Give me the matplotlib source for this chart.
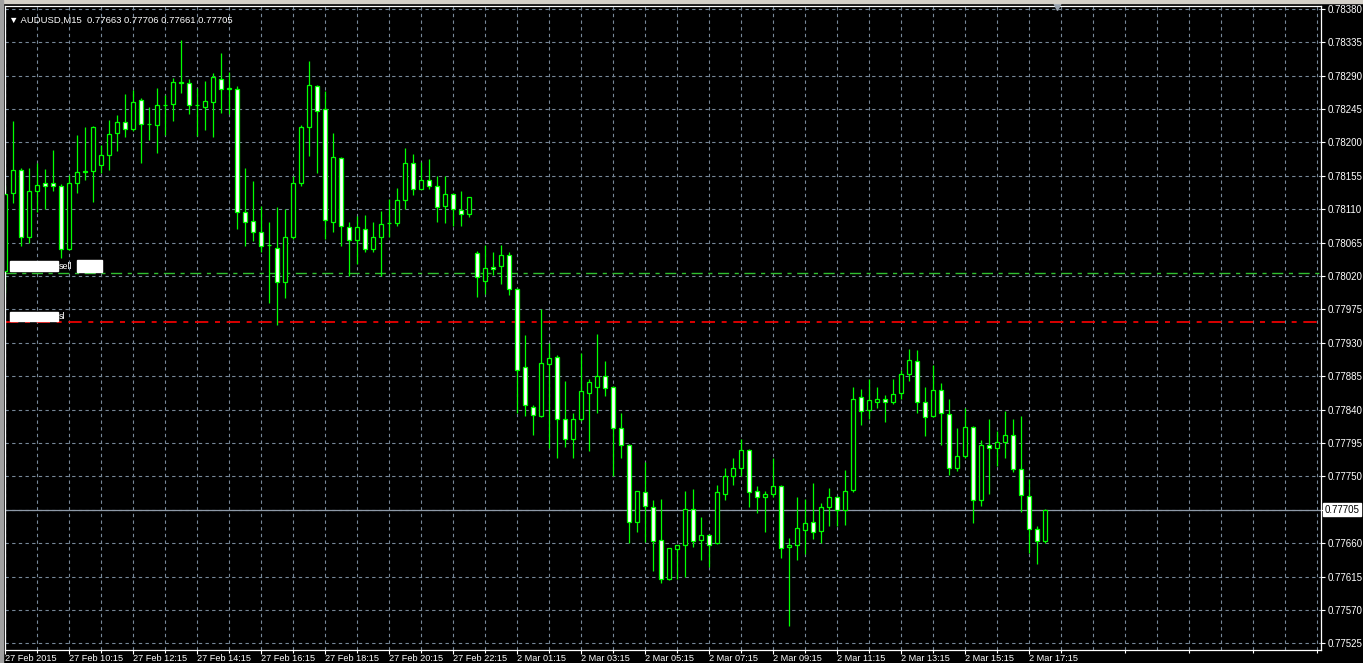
import numpy as np
import matplotlib
matplotlib.use("Agg")
import matplotlib.pyplot as plt
from matplotlib.patches import Rectangle

plt.rcParams['font.family'] = ['Liberation Sans', 'DejaVu Sans']

symbol = "AUDUSD,M15"
last_ohlc = ["0.77663", "0.77706", "0.77661", "0.77705"]

opens = [0.78027, 0.78132, 0.78163, 0.78072, 0.78134, 0.78146, 0.78146, 0.78142, 0.78056, 0.78145,
         0.78161, 0.78161, 0.78169, 0.78183, 0.78213, 0.78227, 0.78218, 0.78257, 0.78225, 0.78224,
         0.78251, 0.78252, 0.78280, 0.78280, 0.78250, 0.78248, 0.78255, 0.78285, 0.78272, 0.78272,
         0.78106, 0.78094, 0.78080, 0.78062, 0.78058, 0.78012, 0.78072, 0.78145, 0.78221, 0.78276,
         0.78245, 0.78093, 0.78179, 0.78086, 0.78068, 0.78084, 0.78057, 0.78072, 0.78091, 0.78091,
         0.78123, 0.78172, 0.78138, 0.78150, 0.78141, 0.78114, 0.78130, 0.78109, 0.78103, 0.78051,
         0.78014, 0.78032, 0.78033, 0.78049, 0.78002, 0.77897, 0.77844, 0.77832, 0.77901, 0.77911,
         0.77827, 0.77800, 0.77827, 0.77863, 0.77870, 0.77885, 0.77870, 0.77815, 0.77792, 0.77688,
         0.77729, 0.77709, 0.77664, 0.77612, 0.77652, 0.77657, 0.77706, 0.77664, 0.77671, 0.77660,
         0.77727, 0.77750, 0.77761, 0.77785, 0.77730, 0.77722, 0.77727, 0.77737, 0.77655, 0.77657,
         0.77678, 0.77688, 0.77676, 0.77709, 0.77722, 0.77705, 0.77732, 0.77857, 0.77839, 0.77851,
         0.77854, 0.77850, 0.77862, 0.77888, 0.77905, 0.77850, 0.77831, 0.77866, 0.77834, 0.77762,
         0.77777, 0.77816, 0.77718, 0.77792, 0.77788, 0.77796, 0.77806, 0.77760, 0.77724, 0.77679,
         0.77663]
highs = [0.78143, 0.78229, 0.78165, 0.78166, 0.78172, 0.78164, 0.78190, 0.78144, 0.78156, 0.78210,
         0.78221, 0.78222, 0.78197, 0.78230, 0.78237, 0.78265, 0.78271, 0.78260, 0.78248, 0.78273,
         0.78264, 0.78287, 0.78338, 0.78286, 0.78274, 0.78283, 0.78293, 0.78321, 0.78295, 0.78276,
         0.78165, 0.78148, 0.78114, 0.78093, 0.78113, 0.78110, 0.78155, 0.78224, 0.78310, 0.78278,
         0.78269, 0.78213, 0.78181, 0.78093, 0.78101, 0.78102, 0.78093, 0.78108, 0.78124, 0.78139,
         0.78193, 0.78185, 0.78174, 0.78178, 0.78155, 0.78155, 0.78132, 0.78135, 0.78127, 0.78054,
         0.78062, 0.78052, 0.78062, 0.78053, 0.78004, 0.77941, 0.77846, 0.77975, 0.77930, 0.77913,
         0.77879, 0.77836, 0.77916, 0.77881, 0.77942, 0.77906, 0.77872, 0.77836, 0.77794, 0.77731,
         0.77769, 0.77718, 0.77719, 0.77654, 0.77658, 0.77731, 0.77733, 0.77695, 0.77672, 0.77739,
         0.77761, 0.77775, 0.77801, 0.77787, 0.77737, 0.77731, 0.77775, 0.77739, 0.77667, 0.77722,
         0.77720, 0.77741, 0.77714, 0.77734, 0.77724, 0.77759, 0.77871, 0.77868, 0.77881, 0.77871,
         0.77860, 0.77882, 0.77893, 0.77922, 0.77920, 0.77871, 0.77900, 0.77876, 0.77854, 0.77815,
         0.77842, 0.77818, 0.77799, 0.77827, 0.77811, 0.77838, 0.77827, 0.77831, 0.77746, 0.77683,
         0.77706]
lows = [0.77997, 0.78119, 0.78060, 0.78064, 0.78106, 0.78110, 0.78134, 0.78045, 0.78055, 0.78132,
        0.78149, 0.78120, 0.78159, 0.78163, 0.78189, 0.78208, 0.78215, 0.78172, 0.78203, 0.78186,
        0.78210, 0.78229, 0.78267, 0.78239, 0.78209, 0.78217, 0.78208, 0.78240, 0.78239, 0.78084,
        0.78060, 0.78067, 0.78053, 0.77984, 0.77954, 0.77991, 0.78070, 0.78142, 0.78182, 0.78159,
        0.78070, 0.78079, 0.78061, 0.78020, 0.78036, 0.78053, 0.78052, 0.78020, 0.78072, 0.78088,
        0.78110, 0.78129, 0.78137, 0.78137, 0.78093, 0.78092, 0.78088, 0.78088, 0.78099, 0.77992,
        0.77996, 0.78022, 0.78010, 0.77994, 0.77836, 0.77831, 0.77806, 0.77830, 0.77789, 0.77775,
        0.77790, 0.77775, 0.77825, 0.77784, 0.77835, 0.77858, 0.77750, 0.77775, 0.77660, 0.77675,
        0.77662, 0.77623, 0.77606, 0.77611, 0.77612, 0.77615, 0.77655, 0.77638, 0.77628, 0.77659,
        0.77718, 0.77738, 0.77750, 0.77709, 0.77701, 0.77675, 0.77722, 0.77640, 0.77548, 0.77637,
        0.77645, 0.77666, 0.77661, 0.77683, 0.77683, 0.77685, 0.77729, 0.77819, 0.77828, 0.77842,
        0.77824, 0.77847, 0.77855, 0.77878, 0.77835, 0.77804, 0.77830, 0.77793, 0.77752, 0.77757,
        0.77775, 0.77687, 0.77710, 0.77727, 0.77764, 0.77775, 0.77756, 0.77702, 0.77647, 0.77632,
        0.77661]
closes = [0.78131, 0.78163, 0.78072, 0.78134, 0.78143, 0.78142, 0.78142, 0.78056, 0.78145, 0.78160,
          0.78160, 0.78221, 0.78183, 0.78212, 0.78227, 0.78218, 0.78255, 0.78225, 0.78225, 0.78251,
          0.78251, 0.78281, 0.78281, 0.78250, 0.78250, 0.78256, 0.78288, 0.78272, 0.78274, 0.78106,
          0.78093, 0.78080, 0.78060, 0.78062, 0.78012, 0.78072, 0.78145, 0.78221, 0.78277, 0.78243,
          0.78095, 0.78181, 0.78087, 0.78068, 0.78086, 0.78056, 0.78072, 0.78090, 0.78091, 0.78123,
          0.78172, 0.78138, 0.78150, 0.78142, 0.78113, 0.78130, 0.78110, 0.78103, 0.78126, 0.78019,
          0.78031, 0.78029, 0.78049, 0.78002, 0.77893, 0.77846, 0.77833, 0.77903, 0.77909, 0.77827,
          0.77800, 0.77827, 0.77865, 0.77877, 0.77885, 0.77869, 0.77815, 0.77792, 0.77688, 0.77730,
          0.77710, 0.77663, 0.77612, 0.77653, 0.77657, 0.77706, 0.77663, 0.77671, 0.77657, 0.77729,
          0.77750, 0.77761, 0.77785, 0.77729, 0.77722, 0.77726, 0.77737, 0.77653, 0.77658, 0.77680,
          0.77687, 0.77675, 0.77709, 0.77722, 0.77705, 0.77730, 0.77855, 0.77838, 0.77853, 0.77854,
          0.77850, 0.77861, 0.77888, 0.77907, 0.77850, 0.77830, 0.77866, 0.77835, 0.77762, 0.77777,
          0.77816, 0.77718, 0.77793, 0.77788, 0.77796, 0.77806, 0.77760, 0.77725, 0.77679, 0.77663,
          0.77705]

time_labels = ["27 Feb 2015", "27 Feb 10:15", "27 Feb 12:15", "27 Feb 14:15", "27 Feb 16:15",
               "27 Feb 18:15", "27 Feb 20:15", "27 Feb 22:15", "2 Mar 01:15", "2 Mar 03:15",
               "2 Mar 05:15", "2 Mar 07:15", "2 Mar 09:15", "2 Mar 11:15", "2 Mar 13:15",
               "2 Mar 15:15", "2 Mar 17:15"]
price_ticks = [0.77525, 0.77570, 0.77615, 0.77660, 0.77705, 0.77750, 0.77795, 0.77840, 0.77885,
               0.77930, 0.77975, 0.78020, 0.78065, 0.78110, 0.78155, 0.78200, 0.78245, 0.78290,
               0.78335, 0.78380]
bid = 0.77705
sell_level = 0.78024
sl_level = 0.77958

W, H = 1363, 663
fig = plt.figure(figsize=(W / 100, H / 100), dpi=100, facecolor='black')
ax = fig.add_axes([5 / W, 1 - 650 / H, 1316 / W, 644 / H])
ax.set_facecolor('black')

o = np.array(opens)
h = np.array(highs)
l = np.array(lows)
c = np.array(closes)
x = np.arange(len(o))

ax.set_xlim(-0.04, 164.46)
ax.set_ylim(0.775162, 0.783839)

# grid + scales; the bid box takes the place of its own tick label
ax.set_yticks(price_ticks)
ax.set_yticklabels(["" if abs(p - bid) < 1e-7 else "%.5f" % p for p in price_ticks])
ax.set_xticks(np.arange(0, 8 * len(time_labels), 8))
ax.set_xticklabels(time_labels, ha='left')
ax.set_xticks(np.arange(4, 168, 8), minor=True)
for p in price_ticks:
    ax.axhline(p, color='#778899', lw=0.8, ls=(0, (3, 3)), zorder=0)
for k in range(0, 168, 4):
    ax.axvline(k, color='#778899', lw=0.8, ls=(0, (3, 3)), zorder=0)

ax.yaxis.tick_right()
ax.tick_params(axis='y', colors='white', labelsize=7, length=3, width=0.8, pad=2)
ax.tick_params(axis='x', which='major', colors='white', labelsize=6.6, length=3, width=0.8, pad=0)
ax.tick_params(axis='x', which='minor', colors='white', length=2, width=0.8)
for s in ax.spines.values():
    s.set_color('white')
    s.set_linewidth(0.9)

# levels
ax.axhline(bid, color='#8e9aa8', lw=0.9, zorder=1)
ax.axhline(sell_level, color='#2fbf2f', lw=1.0, ls=(0, (8, 4, 3, 4)), zorder=1)
ax.axhline(sl_level, color='#ff0000', lw=1.2, ls=(0, (8, 4, 3, 4)), zorder=1)

# candles
up = c >= o
ax.vlines(x, l, h, color='#00ff00', lw=0.9, zorder=2)
ax.bar(x, np.abs(c - o), bottom=np.minimum(o, c), width=0.5,
       color=np.where(up, 'black', 'white'), edgecolor='#00ff00', linewidth=0.9, zorder=3)

# order labels (redacted)
tr = ax.get_yaxis_transform()
ax.add_patch(Rectangle((0.004, sell_level + 0.00003), 0.036, 0.00013, transform=tr,
                       color='white', zorder=5))
ax.text(0.041, sell_level + 0.00009, "sell", transform=tr, color='white', fontsize=6.5,
        va='center', zorder=6)
ax.add_patch(Rectangle((0.055, sell_level + 0.00002), 0.019, 0.00016, transform=tr,
                       color='white', zorder=5))
ax.add_patch(Rectangle((0.004, sl_level + 0.00001), 0.036, 0.00012, transform=tr,
                       color='white', zorder=5))
ax.text(0.041, sl_level + 0.00008, "sl", transform=tr, color='white', fontsize=6.5,
        va='center', zorder=6)

# bid label on the price scale
ax.text(1.003, bid, "%.5f" % bid, transform=tr, color='black', fontsize=7, va='center',
        ha='left', bbox=dict(boxstyle='square,pad=0.15', fc='white', ec='white'), zorder=7,
        clip_on=False)

# header text
ax.text(0.003, 0.985, "\u25bc " + symbol + "  " + " ".join(last_ohlc), transform=ax.transAxes,
        color='white', fontsize=6.8, va='top', ha='left')

# chart shift marker
ax.plot([131.5], [0.783839], marker='v', color='#9aa4b0', ms=6, clip_on=False, zorder=8)

# window frame
fig.patches.append(Rectangle((0, 1 - 3 / H), 1, 3 / H, transform=fig.transFigure,
                             color='#d4d0c8', zorder=0))
fig.patches.append(Rectangle((0, 0), 3 / W, 1, transform=fig.transFigure,
                             color='#a0a0a0', zorder=0))

fig.savefig("out.png", dpi=100, facecolor='black')
